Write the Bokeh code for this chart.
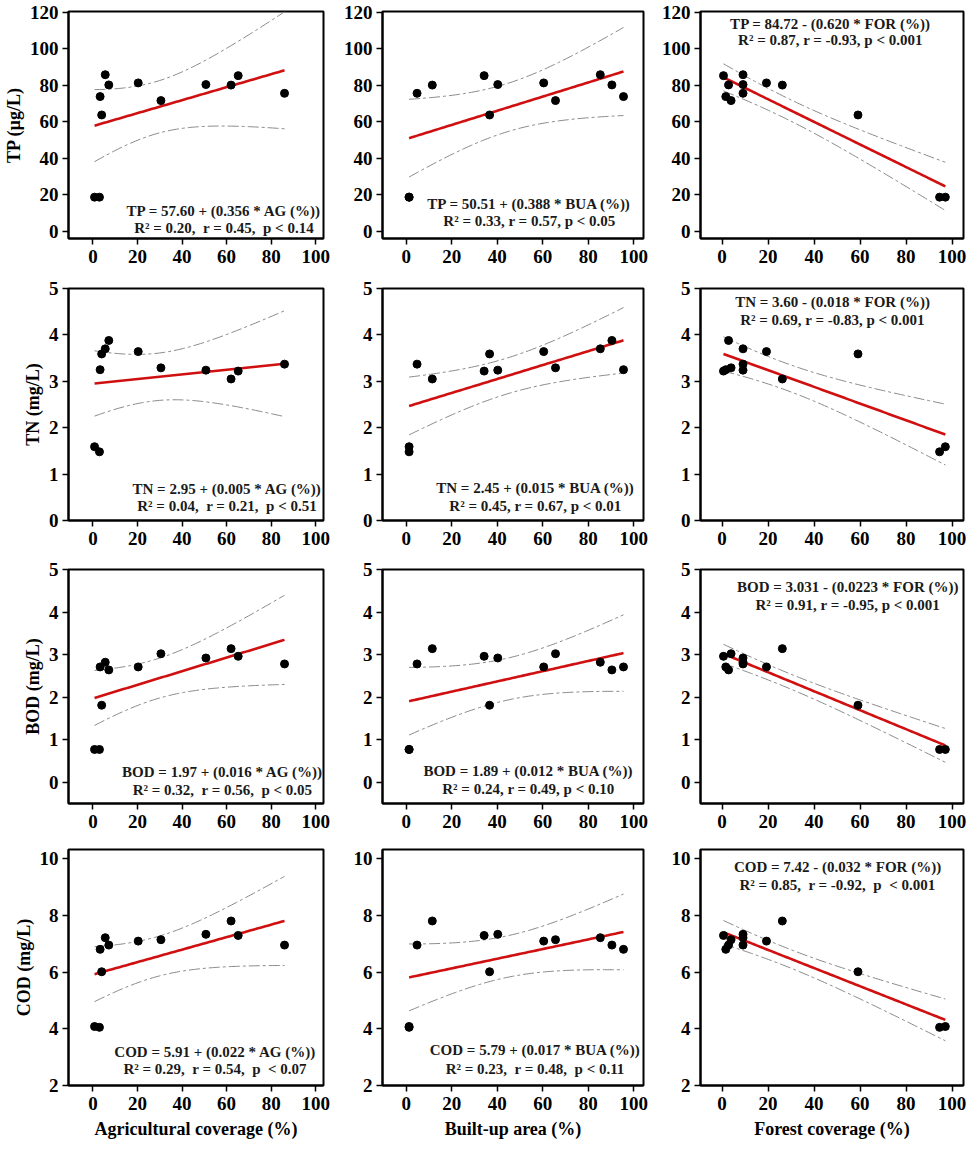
import numpy as np
from bokeh.plotting import figure
from bokeh.layouts import gridplot
from bokeh.models import Range1d, FixedTicker, Label
from bokeh.embed import file_html
from bokeh.resources import INLINE

# ---------------- data (12 sampling sites) ----------------
AG  = [0.7, 2.9, 3.2, 3.9, 5.5, 7.1, 20.3, 30.5, 50.7, 62.0, 65.2, 86.0]
BUA = [1.2, 1.2, 95.5, 36.6, 85.3, 90.4, 60.4, 65.6, 40.2, 11.4, 34.2, 4.7]
FOR = [97.1, 94.6, 1.6, 59.1, 9.1, 2.8, 19.3, 3.9, 9.1, 26.2, 0.6, 9.1]

TP  = [18.6, 18.6, 73.8, 63.7, 85.8, 80.2, 81.3, 71.6, 80.4, 80.1, 85.3, 75.6]
TN  = [1.59, 1.48, 3.25, 3.59, 3.70, 3.88, 3.64, 3.29, 3.24, 3.05, 3.22, 3.37]
BOD = [0.77, 0.77, 2.71, 1.81, 2.82, 2.64, 2.71, 3.02, 2.92, 3.14, 2.96, 2.78]
COD = [4.08, 4.05, 6.80, 6.01, 7.21, 6.95, 7.09, 7.14, 7.33, 7.80, 7.29, 6.95]

x_titles = ["Agricultural coverage (%)", "Built-up area (%)", "Forest coverage (%)"]
y_titles = ["TP (\u00b5g/L)", "TN (mg/L)", "BOD (mg/L)", "COD (mg/L)"]
x_ticks = [0, 20, 40, 60, 80, 100]
y_ticks = [[0, 20, 40, 60, 80, 100, 120], [0, 1, 2, 3, 4, 5], [0, 1, 2, 3, 4, 5], [2, 4, 6, 8, 10]]

# regression coefficients as printed in each panel (rows: TP, TN, BOD, COD; cols: AG, BUA, FOR)
intercepts = [[57.60, 50.51, 84.72], [2.95, 2.45, 3.60], [1.97, 1.89, 3.031], [5.91, 5.79, 7.42]]
slopes = [[0.356, 0.388, -0.620], [0.005, 0.015, -0.018], [0.016, 0.012, -0.0223], [0.022, 0.017, -0.032]]

eq_text = [
    ["TP = 57.60 + (0.356 * AG (%))", "TP = 50.51 + (0.388 * BUA (%))", "TP = 84.72 - (0.620 * FOR (%))"],
    ["TN = 2.95 + (0.005 * AG (%))", "TN = 2.45 + (0.015 * BUA (%))", "TN = 3.60 - (0.018 * FOR (%))"],
    ["BOD = 1.97 + (0.016 * AG (%))", "BOD = 1.89 + (0.012 * BUA (%))", "BOD = 3.031 - (0.0223 * FOR (%))"],
    ["COD = 5.91 + (0.022 * AG (%))", "COD = 5.79 + (0.017 * BUA (%))", "COD = 7.42 - (0.032 * FOR (%))"],
]
stat_text = [
    ["R\u00b2 = 0.20,  r = 0.45,  p < 0.14", "R\u00b2 = 0.33, r = 0.57, p < 0.05", "R\u00b2 = 0.87, r = -0.93, p < 0.001"],
    ["R\u00b2 = 0.04,  r = 0.21,  p < 0.51", "R\u00b2 = 0.45, r = 0.67, p < 0.01", "R\u00b2 = 0.69, r = -0.83, p < 0.001"],
    ["R\u00b2 = 0.32,  r = 0.56,  p < 0.05", "R\u00b2 = 0.24, r = 0.49, p < 0.10", "R\u00b2 = 0.91, r = -0.95, p < 0.001"],
    ["R\u00b2 = 0.29,  r = 0.54,  p  < 0.07", "R\u00b2 = 0.23,  r = 0.48,  p < 0.11", "R\u00b2 = 0.85,  r = -0.92,  p  < 0.001"],
]

xs_data = [AG, BUA, FOR]
ys_data = [TP, TN, BOD, COD]

# ---------------- layout / style ----------------
FONT = "Liberation Serif"
col_width = [340, 315, 321]
col_left = [62, 42, 45]
col_right = [17, 12, 13]
row_height = [277, 281, 280, 313]
row_top = 11
row_bottom = [39, 38, 35, 66]
x_ranges = [(-11.0, 103.5), (-10.5, 104.3), (-9.4, 105.0)]
y_ranges = [(-4.1, 120.5), (0.0, 5.0), (-0.5, 5.0), (2.0, 10.32)]

# text placement: (fraction of frame width for center, px offset line1, px offset line2, anchor)
text_pos = [
    [(0.610, 28, 11, "bottom"), (0.563, 35, 18, "bottom"), (0.494, 12, 28, "top")],
    [(0.622, 32, 15, "bottom"), (0.586, 33, 15, "bottom"), (0.502, 13, 31, "top")],
    [(0.604, 32, 14, "bottom"), (0.559, 33, 15, "bottom"), (0.560, 17, 35, "top")],
    [(0.575, 34, 17, "bottom"), (0.585, 36, 17, "bottom"), (0.521, 17, 35, "top")],
]

T_CRIT = 2.228  # t(0.975, 10)


def conf_band(x, y, a, b):
    x = np.asarray(x, float)
    y = np.asarray(y, float)
    n = len(x)
    res = y - (a + b * x)
    s = np.sqrt(np.sum(res ** 2) / (n - 2))
    xbar = x.mean()
    sxx = np.sum((x - xbar) ** 2)
    xs = np.linspace(x.min(), x.max(), 80)
    yhat = a + b * xs
    half = T_CRIT * s * np.sqrt(1.0 / n + (xs - xbar) ** 2 / sxx)
    return xs, yhat, yhat - half, yhat + half


def keep_spaces(s):
    return s.replace("  ", " \u00a0")


rows = []
for r in range(4):
    row = []
    for c in range(3):
        frame_h = row_height[r] - row_top - row_bottom[r]
        p = figure(
            width=col_width[c], height=row_height[r],
            output_backend="svg", toolbar_location=None,
            x_range=Range1d(*x_ranges[c]), y_range=Range1d(*y_ranges[r]),
            min_border_left=col_left[c], min_border_right=col_right[c],
            min_border_top=row_top, min_border_bottom=row_bottom[r],
        )
        p.background_fill_color = "white"
        p.border_fill_color = "white"
        p.outline_line_color = "black"
        p.outline_line_width = 2
        p.outline_line_alpha = 1.0
        p.xgrid.visible = False
        p.ygrid.visible = False

        p.xaxis.ticker = FixedTicker(ticks=x_ticks)
        p.yaxis.ticker = FixedTicker(ticks=y_ticks[r])
        for ax in (p.xaxis, p.yaxis):
            ax.axis_line_width = 2
            ax.axis_line_color = "black"
            ax.major_tick_line_width = 1.5
            ax.major_tick_line_color = "black"
            ax.major_tick_in = 0
            ax.major_tick_out = 6
            ax.minor_tick_line_color = None
            ax.major_label_text_font = FONT
            ax.major_label_text_font_style = "bold"
            ax.major_label_text_font_size = "19px"
            ax.major_label_text_color = "black"
            ax.axis_label_text_font = FONT
            ax.axis_label_text_font_style = "bold"
            ax.axis_label_text_font_size = "18px"
            ax.axis_label_text_color = "black"
        p.xaxis.major_label_standoff = 5
        p.yaxis.major_label_standoff = 4
        p.xaxis.axis_label_standoff = 6
        p.yaxis.axis_label_standoff = 3
        if c == 0:
            p.yaxis.axis_label = y_titles[r]
        if r == 3:
            p.xaxis.axis_label = x_titles[c]

        x = xs_data[c]
        y = ys_data[r]
        a = intercepts[r][c]
        b = slopes[r][c]
        xs, yhat, lo, hi = conf_band(x, y, a, b)
        p.line(xs, lo, line_color="#8a8a8a", line_width=1, line_dash="11 3 3 3")
        p.line(xs, hi, line_color="#8a8a8a", line_width=1, line_dash="11 3 3 3")
        p.line(xs, yhat, line_color="#d01010", line_width=2.6)
        p.scatter(x, y, size=8, fill_color="black", line_color="black", marker="circle")

        # annotation text
        fx, o1, o2, anchor = text_pos[r][c]
        x0, x1 = x_ranges[c]
        y0, y1 = y_ranges[r]
        tx = x0 + fx * (x1 - x0)
        per_px = (y1 - y0) / frame_h
        if anchor == "bottom":
            ty1 = y0 + o1 * per_px
            ty2 = y0 + o2 * per_px
        else:
            ty1 = y1 - o1 * per_px
            ty2 = y1 - o2 * per_px
        for txt, ty in ((eq_text[r][c], ty1), (keep_spaces(stat_text[r][c]), ty2)):
            p.add_layout(Label(x=tx, y=ty, text=txt, text_font=FONT, text_font_style="bold",
                               text_font_size="15px", text_color="#1a1a1a",
                               text_align="center", text_baseline="middle"))
        row.append(p)
    rows.append(row)

grid = gridplot(rows, toolbar_location=None)
open("out.html", "w").write(file_html(grid, INLINE))
